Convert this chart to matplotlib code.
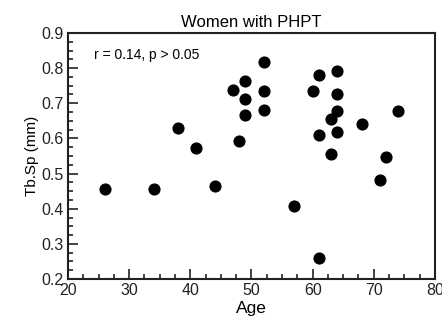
import matplotlib
matplotlib.use('Agg')
import matplotlib.pyplot as plt
from matplotlib.ticker import MultipleLocator, FormatStrFormatter

plt.rcParams['font.family'] = ['Liberation Sans', 'DejaVu Sans']

# возраст и Tb.Sp (мм)
age = [47, 49, 52, 49, 52, 61, 64, 60, 64,
       52, 49, 64, 74, 38, 63, 61, 64, 68, 48,
       41, 63, 72, 71, 26, 34, 44, 57, 61]
tbsp = [0.737, 0.762, 0.818, 0.713, 0.736, 0.781, 0.791, 0.736, 0.727,
        0.680, 0.668, 0.678, 0.678, 0.630, 0.654, 0.611, 0.619, 0.642, 0.594,
        0.573, 0.557, 0.548, 0.482, 0.455, 0.455, 0.466, 0.407, 0.259]

fig = plt.figure(figsize=(4.42, 3.26), dpi=100)
ax = fig.add_axes([0.154, 0.144, 0.830, 0.755])

ax.scatter(age, tbsp, s=60, color='black', zorder=3)

ax.set_xlim(20, 80)
ax.set_ylim(0.2, 0.9)
ax.xaxis.set_major_locator(MultipleLocator(10))
ax.xaxis.set_minor_locator(MultipleLocator(2.5))
ax.yaxis.set_major_locator(MultipleLocator(0.1))
ax.yaxis.set_minor_locator(MultipleLocator(0.025))
ax.xaxis.set_major_formatter(FormatStrFormatter('%d'))
ax.yaxis.set_major_formatter(FormatStrFormatter('%.1f'))
ax.tick_params(which='both', direction='in', top=False, right=False, width=1.2,
               labelsize=11.5, colors='#222222')
ax.tick_params(which='major', length=7, pad=3)
ax.tick_params(which='minor', length=3.5)
for s in ax.spines.values():
    s.set_linewidth(1.5)
    s.set_color('#222222')

ax.set_xlabel('Age', fontsize=12.5, labelpad=2)
ax.set_ylabel('Tb.Sp (mm)', fontsize=11, labelpad=2)
ax.set_title('Women with PHPT', fontsize=12, pad=4)
ax.text(0.07, 0.91, 'r = 0.14, p > 0.05', transform=ax.transAxes, fontsize=10, va='center')

plt.savefig('out.png', dpi=100)
